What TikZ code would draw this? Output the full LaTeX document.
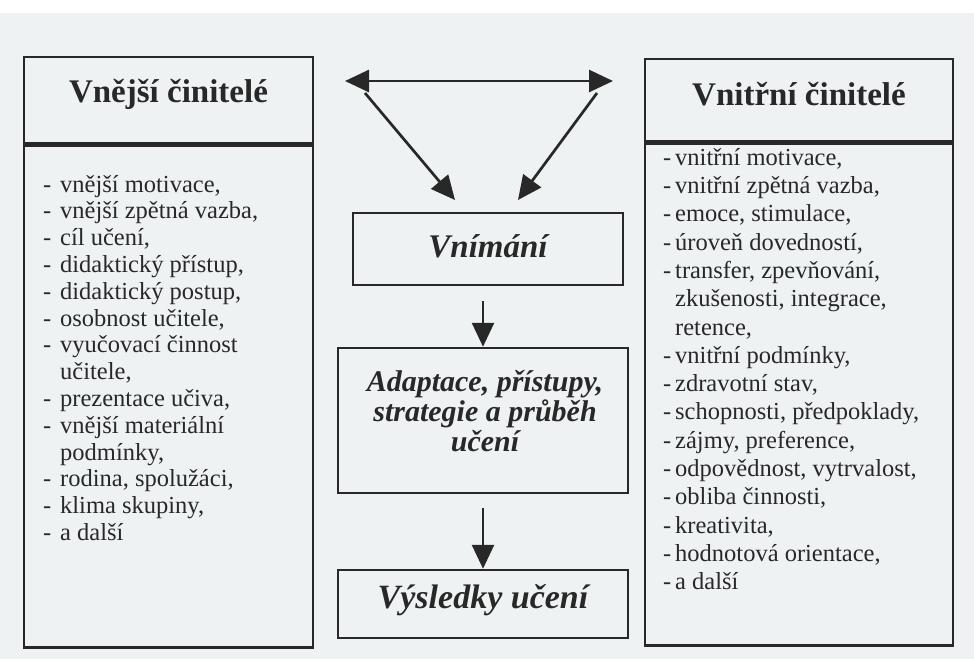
\documentclass[tikz,border=0pt]{standalone}
\usepackage{fontspec}
\setmainfont{Liberation Serif}
\usepackage{xcolor}
\definecolor{ink}{RGB}{40,40,40}
\definecolor{paper}{RGB}{239,242,243}
\usetikzlibrary{arrows.meta}
\newcommand{\itm}[1]{\makebox[17pt][l]{-}#1}
\newcommand{\cnt}[1]{\hspace*{17pt}#1}
\newcommand{\ritm}[1]{\makebox[12pt][l]{-}#1}
\newcommand{\rcnt}[1]{\hspace*{12pt}#1}
\newcommand{\widthleft}{289pt}
\newcommand{\widthright}{308pt}
\newcommand{\widthstage}{290pt}
\tikzset{
    common/.style={draw=ink, line width=2.5pt, rectangle, inner sep=0pt, text=ink},
    headbox/.style={common, font=\fontsize{33}{33}\selectfont\bfseries},
    listbox/.style={common, anchor=north},
    listtext/.style={anchor=north west, inner sep=0pt, align=left, text=ink},
    stagebox/.style={common, align=center, minimum width=\widthstage},
    stagetext/.style={inner sep=0pt, align=center, text=ink},
    tip/.tip={Triangle[length=24pt, width=22pt]},
    flow/.style={draw=ink, line width=2.7pt, -tip},
    bothflow/.style={flow, tip-tip}
}
\begin{document}
\begin{tikzpicture}[x=1pt, y=-1pt]
    \useasboundingbox (0,0) rectangle (974,659);
    \fill[white] (0,0) rectangle (974,659);
    \fill[paper] (0,13) rectangle (974,659);

    % outer factors
    \node[headbox, minimum width=\widthleft, minimum height=86pt, text height=14pt, text depth=10pt] (outT) at (168.5,100) {Vnější činitelé};
    \node[listbox, minimum width=\widthleft, minimum height=502pt] (outL) at (outT.south) {};
    \node[listtext, font=\fontsize{24.5}{26.8}\selectfont] (outItems) at (43,173.2) {\strut\itm{vnější motivace,}\\
        \itm{vnější zpětná vazba,}\\
        \itm{cíl učení,}\\
        \itm{didaktický přístup,}\\
        \itm{didaktický postup,}\\
        \itm{osobnost učitele,}\\
        \itm{vyučovací činnost}\\
        \cnt{učitele,}\\
        \itm{prezentace učiva,}\\
        \itm{vnější materiální}\\
        \cnt{podmínky,}\\
        \itm{rodina, spolužáci,}\\
        \itm{klima skupiny,}\\
        \itm{a další}};

    % inner factors
    \node[headbox, minimum width=\widthright, minimum height=82pt, text height=15pt, text depth=5pt] (inT) at (799,100) {Vnitřní činitelé};
    \node[listbox, minimum width=\widthright, minimum height=502pt] (inL) at (inT.south) {};
    \node[listtext, font=\fontsize{24.5}{28.3}\selectfont] (inItems) at (663,145.2) {\strut\ritm{vnitřní motivace,}\\
        \ritm{vnitřní zpětná vazba,}\\
        \ritm{emoce, stimulace,}\\
        \ritm{úroveň dovedností,}\\
        \ritm{transfer, zpevňování,}\\
        \rcnt{zkušenosti, integrace,}\\
        \rcnt{retence,}\\
        \ritm{vnitřní podmínky,}\\
        \ritm{zdravotní stav,}\\
        \ritm{schopnosti, předpoklady,}\\
        \ritm{zájmy, preference,}\\
        \ritm{odpovědnost, vytrvalost,}\\
        \ritm{obliba činnosti,}\\
        \ritm{kreativita,}\\
        \ritm{hodnotová orientace,}\\
        \ritm{a další}};

    % middle column
    \node[stagebox, minimum width=270pt, minimum height=72pt, font=\fontsize{33}{33}\selectfont\bfseries\itshape, text height=24pt, text depth=8pt] (vnim) at (488,249) {Vnímání};
    \node[stagebox, minimum height=145pt] (adapt) at (483,420.5) {};
    \node[stagetext, font=\fontsize{30}{30}\selectfont\bfseries\itshape] (adaptText) at (485,411) {Adaptace, přístupy,\\ strategie a průběh\\ učení};
    \node[stagebox, minimum height=68pt, font=\fontsize{34}{34}\selectfont\bfseries\itshape, text height=20pt, text depth=12pt] (vysl) at (483,604) {Výsledky učení};

    \coordinate (topL) at (345,81);
    \coordinate (topR) at (613,81);
    \coordinate (startL) at (365,93);
    \coordinate (startR) at (597,93);
    \coordinate (diagL) at (455,200);
    \coordinate (diagR) at (518,200);

    \draw[bothflow] (topL) -- (topR);
    \draw[flow] (startL) -- (diagL);
    \draw[flow] (startR) -- (diagR);
    \draw[flow, shorten <=15pt] (vnim.south -| adapt.north) -- (adapt.north);
    \draw[flow, shorten <=14pt] (adapt) -- (vysl);
\end{tikzpicture}
\end{document}
